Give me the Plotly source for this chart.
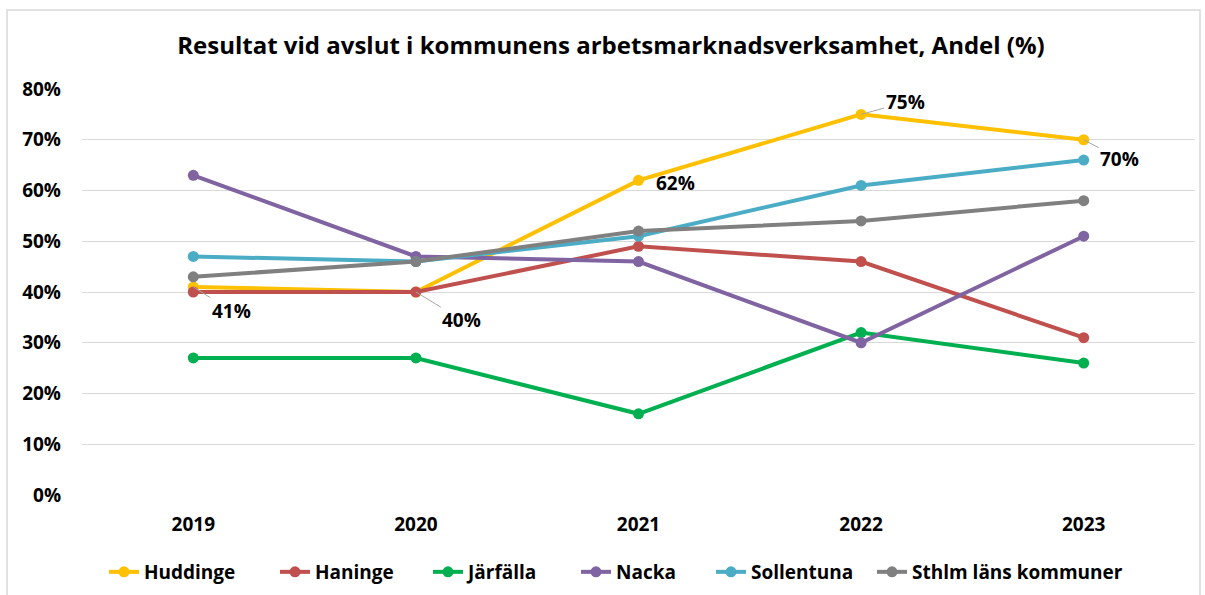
import plotly.graph_objects as go

years = ["2019", "2020", "2021", "2022", "2023"]
huddinge = [41, 40, 62, 75, 70]
haninge = [40, 40, 49, 46, 31]
jarfalla = [27, 27, 16, 32, 26]
nacka = [63, 47, 46, 30, 51]
sollentuna = [47, 46, 51, 61, 66]
sthlm = [43, 46, 52, 54, 58]

names = ["Huddinge", "Haninge", "Järfälla", "Nacka", "Sollentuna", "Sthlm läns kommuner"]
values = [huddinge, haninge, jarfalla, nacka, sollentuna, sthlm]
colors = ["#FFC000", "#C0504D", "#00B050", "#8064A2", "#4BACC6", "#808080"]

FONT = "Open Sans"
xs = list(range(len(years)))

W, H = 1205, 595
L, R, T, B = 82, 10, 89, 100
pw, ph = W - L - R, H - T - B

def px_x(px):
    return (px - L) / pw

def px_y(py):
    return 1 - (py - T) / ph

# legend text start positions (pixels)
legend_text_px = [145, 316, 469, 617, 752, 913]

fig = go.Figure()
for k, (name, vals, col) in enumerate(zip(names, values, colors)):
    lg = "legend" if k == 0 else f"legend{k + 1}"
    fig.add_trace(go.Scatter(
        x=xs, y=[v / 100 for v in vals], name=name, mode="lines+markers",
        line=dict(color=col, width=4), marker=dict(color=col, size=11),
        legend=lg,
    ))

afont = dict(family=FONT, size=19, color="#000000", weight="bold")
# Huddinge data labels: (index, ax, ay, arrow)
label_pos = [(0, 38, 24, True), (1, 46, 28, True), (2, 37, 3, False), (3, 44, -12, True), (4, 36, 19, True)]
for i, ax, ay, arrow in label_pos:
    if arrow:
        fig.add_annotation(x=xs[i], y=huddinge[i] / 100, text=f"{huddinge[i]}%",
                           showarrow=True, arrowhead=0, arrowwidth=1, arrowcolor="#A6A6A6",
                           ax=ax, ay=ay, font=afont)
    else:
        fig.add_annotation(x=xs[i], y=huddinge[i] / 100, text=f"{huddinge[i]}%",
                           showarrow=False, xshift=ax, yshift=-ay, font=afont)

# outer chart border
fig.add_shape(type="rect", xref="paper", yref="paper",
              x0=px_x(7), x1=px_x(1200), y0=px_y(605), y1=px_y(10),
              line=dict(color="#D9D9D9", width=1.5), layer="below")

tfont = dict(family=FONT, size=19, color="#000000", weight="bold")
legends = {}
for k, tx in enumerate(legend_text_px):
    key = "legend" if k == 0 else f"legend{k + 1}"
    legends[key] = dict(orientation="h", x=px_x(tx - 41), xanchor="left",
                        y=px_y(572), yanchor="middle", font=tfont,
                        bgcolor="rgba(0,0,0,0)", borderwidth=0, itemwidth=30)

fig.update_layout(
    width=W, height=H,
    margin=dict(l=L, r=R, t=T, b=B, autoexpand=False),
    paper_bgcolor="white", plot_bgcolor="white",
    title=dict(text="Resultat vid avslut i kommunens arbetsmarknadsverksamhet, Andel (%)",
               x=611 / W, xref="container", xanchor="center", y=1 - 46 / H, yanchor="middle",
               font=dict(family=FONT, size=24, color="#000000", weight="bold")),
    xaxis=dict(range=[-0.5, 4.5], tickmode="array", tickvals=xs, ticktext=years,
               showgrid=False, zeroline=False, showline=False, ticks="", automargin=False,
               tickfont=tfont, ticklabelstandoff=16),
    yaxis=dict(range=[0, 0.8], tickformat=".0%", dtick=0.1, showgrid=True, gridcolor="#D9D9D9",
               gridwidth=1, zeroline=False, showline=False, ticks="", automargin=False,
               tickfont=tfont, ticklabelstandoff=20),
    showlegend=True,
    **legends,
)

fig.write_html("out.html", config={"displayModeBar": False},
               post_script="document.body.style.margin='0px';")
